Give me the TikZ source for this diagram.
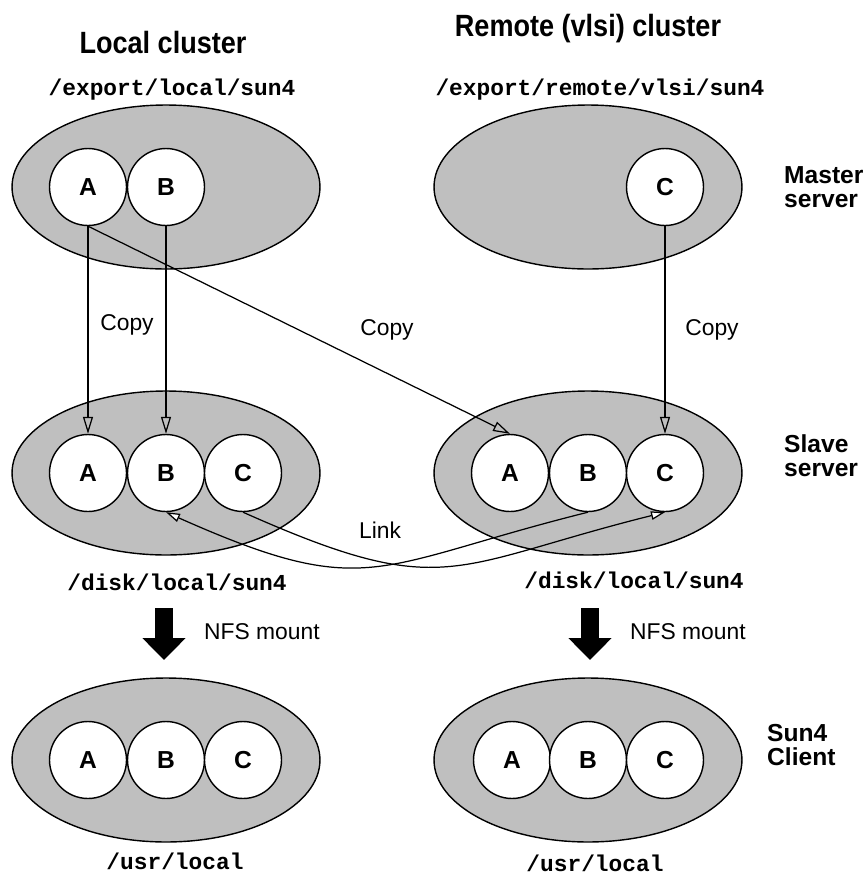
\documentclass[tikz,border=0pt]{standalone}
\usepackage{fontspec}
\setmainfont{Liberation Sans}
\setmonofont{Liberation Mono}
\newfontfamily\titlefont{Liberation Sans}[FakeStretch=0.88]
\usepackage{tikz}
\usetikzlibrary{arrows.meta}
\usetikzlibrary{positioning, shapes.geometric}

\definecolor{diskgray}{gray}{0.75}

\tikzset{
  area/.style={ellipse, draw, fill=diskgray, line width=0.8pt,
    minimum width=6.16cm, minimum height=3.28cm},
  pkg/.style={circle, draw, fill=white, line width=0.8pt, minimum size=1.54cm,
    inner sep=0pt, font=\fontsize{14}{14}\selectfont\bfseries},
  path/.style={font=\fontsize{13}{15}\selectfont\ttfamily\bfseries},
  lbl/.style={font=\fontsize{13}{15}\selectfont},
  role/.style={anchor=west, align=left, font=\fontsize{14}{13.5}\selectfont\bfseries},
  title/.style={font=\fontsize{17.5}{20}\selectfont\titlefont\bfseries},
  copy/.style={line width=0.7pt, -{Triangle[open,length=0.34cm,width=0.2cm]}},
  link/.style={line width=0.7pt, -{Triangle[open,fill=white,length=0.28cm,width=0.17cm]}},
  nfs/.style={line width=0.36cm, -{Triangle[length=0.44cm,width=0.84cm]}}
}

\begin{document}
\begin{tikzpicture}[x=0.02cm, y=-0.02cm]
  \useasboundingbox (0,0) rectangle (867,877);

  % column headings
  \node[title] (tLocal) at (163,43) {Local cluster};
  \node[title] (tRemote) at (588,29) {Remote (vlsi) cluster};

  % master servers
  \node[path] (pML) at (172,90) {/export/local/sun4};
  \node[path] (pMR) at (600,90) {/export/remote/vlsi/sun4};
  \node[area] (mL) at (166,187) {};
  \node[area] (mR) at (588,187) {};
  \node[pkg] (mLA) at (88,187) {A};
  \node[pkg] (mLB) at (166,187) {B};
  \node[pkg] (mRC) at (665,187) {C};
  \node[role] (rMaster) at (778,187) {Master\\server};

  % slave servers
  \node[area] (sL) at (166,473) {};
  \node[area] (sR) at (588,473) {};
  \foreach \n/\x in {A/88,B/166,C/243} {
    \node[pkg] (sL\n) at (\x,473) {\n};
  }
  \foreach \n/\x in {A/510,B/588,C/665} {
    \node[pkg] (sR\n) at (\x,473) {\n};
  }
  \node[role] (rSlave) at (778,456) {Slave\\server};
  \node[path] (pSL) at (177,582) {/disk/local/sun4};
  \node[path] (pSR) at (634,580) {/disk/local/sun4};

  % copies
  \draw[copy] (mLA.south) -- (sLA.north);
  \draw[copy] (mLB.south) -- (sLB.north);
  \draw[copy] (mRC.south) -- (sRC.north);
  \draw[copy] (mLA.south) -- (sRA.north);
  \node[lbl] (cp1) at (127,325) {Copy};
  \node[lbl] (cp2) at (387,330) {Copy};
  \node[lbl] (cp3) at (712,330) {Copy};

  % links
  \draw[link] (sLC.south) to[out=-24, in=194, looseness=1.35] (sRC.south);
  \draw[link] (sRB.south) to[out=194, in=-24, looseness=1.35] (sLB.south);
  \node[lbl] (lnk) at (380,530) {Link};

  % NFS mounts
  \coordinate (nL1) at (164,608);
  \coordinate (nL2) at (164,660);
  \coordinate (nR1) at (590,608);
  \coordinate (nR2) at (590,660);
  \draw[nfs] (nL1) -- (nL2);
  \draw[nfs] (nR1) -- (nR2);
  \node[lbl, anchor=west] (nfsL) at (198,632) {NFS mount};
  \node[lbl, anchor=west] (nfsR) at (624,632) {NFS mount};

  % clients
  \node[area] (cL) at (166,760) {};
  \node[area] (cR) at (588,760) {};
  \foreach \n/\x in {A/88,B/166,C/243} {
    \node[pkg] (cL\n) at (\x,760) {\n};
  }
  \foreach \n/\x in {A/512,B/588,C/665} {
    \node[pkg] (cR\n) at (\x,760) {\n};
  }
  \node[role] (rClient) at (761,745) {Sun4\\Client};
  \node[path] (pCL) at (175,861) {/usr/local};
  \node[path] (pCR) at (595,863) {/usr/local};
\end{tikzpicture}
\end{document}
